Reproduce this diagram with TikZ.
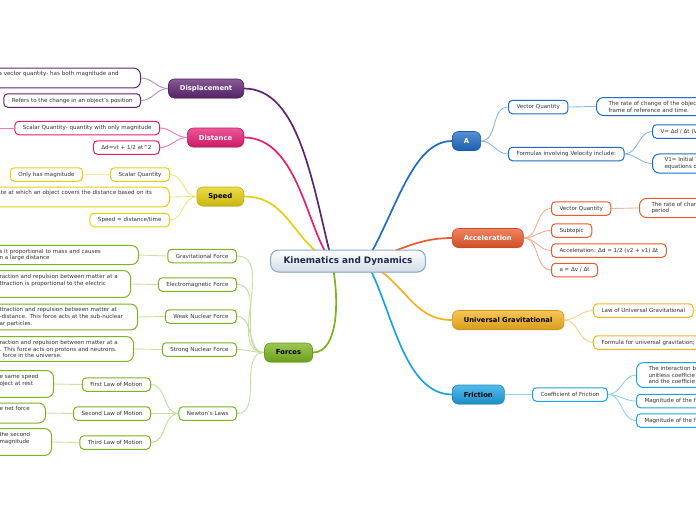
\documentclass[tikz,border=0pt]{standalone}
\usepackage{fontspec}
\setmainfont{DejaVu Sans}
\usetikzlibrary{shadows,backgrounds}

\definecolor{inkc}{HTML}{333333}
\definecolor{hubc}{HTML}{D2DCE7}
\definecolor{hubline}{HTML}{86A9CC}
\definecolor{hubtext}{HTML}{1C2B4A}
\definecolor{dispc}{HTML}{5E2472}
\definecolor{distc}{HTML}{E61E74}
\definecolor{speedc}{HTML}{E6CF10}
\definecolor{forcec}{HTML}{7AB51D}
\definecolor{velc}{HTML}{1F6BC6}
\definecolor{accc}{HTML}{EB5A2C}
\definecolor{gravc}{HTML}{F6B21E}
\definecolor{fricc}{HTML}{1DA2E2}

\tikzset{
  hub/.style={rounded corners=8pt, top color=white, bottom color=hubc, draw=hubline,
    line width=1pt, minimum height=22pt, inner xsep=13pt, text=hubtext,
    font=\bfseries\fontsize{8.9}{10}\selectfont,
    drop shadow={opacity=0.2,shadow xshift=0.6pt,shadow yshift=-0.8pt}},
  topic/.style={rounded corners=6pt, top color=#1!75!white, bottom color=#1!88!black,
    draw=#1!85!black, line width=0.6pt, minimum height=19pt, inner xsep=11.5pt,
    font=\bfseries\fontsize{6.8}{8}\selectfont,
    drop shadow={opacity=0.25,shadow xshift=0.6pt,shadow yshift=-0.8pt}},
  leaf/.style={draw=#1, fill=white, rounded corners=4pt, line width=1pt,
    inner xsep=8pt, inner ysep=1pt, minimum height=13.5pt, text=inkc,
    font=\fontsize{5.55}{6.9}\selectfont},
  note/.style={leaf=#1, rounded corners=7pt, inner xsep=12pt, inner ysep=3.4pt, align=left},
  limb/.style={line width=1.7pt},
  twig/.style={line width=0.9pt},
}

\begin{document}
\begin{tikzpicture}[x=1pt,y=-1pt]
\useasboundingbox (0,0) rectangle (696,520);
\clip (0,0) rectangle (696,520);

% centre
\node[hub] (hub) at (348,261) {Kinematics and Dynamics};
\coordinate (hubW) at (332,262);
\coordinate (hubE) at (366,262);

% main topics
\node[topic=dispc, text=white, anchor=east] (disp) at (244,88.5) {Displacement};
\node[topic=distc, text=white, anchor=east] (dist) at (244,137.5) {Distance};
\node[topic=speedc, text=black, anchor=east] (speed) at (244,196.5) {Speed};
\node[topic=forcec, text=black] (forces) at (288.5,352.5) {Forces};
\node[topic=velc, text=white, anchor=west] (velo) at (452,141) {A};
\node[topic=accc, text=white, anchor=west] (accel) at (452,238) {Acceleration};
\node[topic=gravc, text=black, anchor=west] (grav) at (452,320) {Universal Gravitational};
\node[topic=fricc, text=black, anchor=west] (fric) at (452,394.5) {Friction};

% displacement
\node[note=dispc, anchor=east, text width=130pt] (dispA) at (141,78) {a vector quantity- has both magnitude and\\\strut};
\node[leaf=dispc, anchor=east] (dispB) at (141,100.5) {Refers to the change in an object's position};

% distance
\node[leaf=distc, anchor=east] (distA) at (160,128) {Scalar Quantity- quantity with only magnitude};
\node[leaf=distc, anchor=east] (distB) at (160,147.5) {Δd=vt + 1/2 at\textasciicircum 2};
\coordinate (distAx) at (-20,128);

% speed
\node[leaf=speedc, anchor=east] (spA) at (170,174.5) {Scalar Quantity};
\node[leaf=speedc, anchor=east] (spAa) at (83,174.5) {Only has magnitude};
\node[note=speedc, anchor=east, text width=160pt] (spB) at (170,197) {ate at which an object covers the distance based on its\\\strut};
\node[leaf=speedc, anchor=east] (spC) at (170,220) {Speed = distance/time};

% forces
\node[leaf=forcec, anchor=east] (fGrav) at (237,256) {Gravitational Force};
\node[note=forcec, anchor=east, text width=127pt] (fGravA) at (139,255) {s it proportional to mass and causes\\n a large distance};
\node[leaf=forcec, anchor=east] (fEm) at (237,284.5) {Electromagnetic Force};
\node[note=forcec, anchor=east, text width=119pt] (fEmA) at (131,284) {raction and repulsion between matter at a\\ttraction is proportional to the electric\\\strut};
\node[leaf=forcec, anchor=east] (fWeak) at (237,316.5) {Weak Nuclear Force};
\node[note=forcec, anchor=east, text width=126pt] (fWeakA) at (138,317) {ttraction and repulsion between matter at\\-distance. This force acts at the sub-nuclear\\ar particles.};
\node[leaf=forcec, anchor=east] (fStrong) at (237,349.5) {Strong Nuclear Force};
\node[note=forcec, anchor=east, text width=122pt] (fStrongA) at (134,349) {raction and repulsion between matter at a\\. This force acts on protons and neutrons.\\\hspace*{3pt}force in the universe.};
\node[leaf=forcec, anchor=east] (fNewton) at (237,413.5) {Newton's Laws};
\node[leaf=forcec, anchor=east] (nFirst) at (151,384.5) {First Law of Motion};
\node[note=forcec, anchor=east, text width=42pt] (nFirstA) at (54,384) {e same speed\\oject at rest\\\strut};
\node[leaf=forcec, anchor=east] (nSecond) at (151,413.5) {Second Law of Motion};
\node[note=forcec, anchor=east, text width=34pt] (nSecondA) at (46,413) {e net force\\\strut};
\node[leaf=forcec, anchor=east] (nThird) at (151,442.5) {Third Law of Motion};
\node[note=forcec, anchor=east, text width=40pt] (nThirdA) at (52,442) {the second\\magnitude\\\strut};

% velocity
\node[leaf=velc, anchor=west] (vVec) at (508,107) {Vector Quantity};
\node[note=velc, anchor=west, text width=110pt] (vVecA) at (596,106.5) {The rate of change of the objec\\frame of reference and time.};
\node[leaf=velc, anchor=west] (vForm) at (508,154) {Formulas involving Velocity include:};
\node[leaf=velc, anchor=west, text width=60pt] (vFormA) at (652,131.5) {V= Δd / Δt (V};
\node[note=velc, anchor=west, text width=60pt] (vFormB) at (652,163.5) {V1= Initial V\\equations o};

% acceleration
\node[leaf=accc, anchor=west] (aVec) at (551,208.5) {Vector Quantity};
\node[note=accc, anchor=west, text width=60pt] (aVecA) at (639,208) {The rate of chan\\period};
\node[leaf=accc, anchor=west] (aSub) at (551,230.5) {Subtopic};
\node[leaf=accc, anchor=west] (aForm) at (551,250.5) {Acceleration: Δd = 1/2 (v2 + v1) Δt};
\node[leaf=accc, anchor=west] (aDef) at (551,270) {a = Δv / Δt};

% universal gravitation
\node[leaf=gravc, anchor=west] (gLaw) at (593,310.5) {Law of Universal Gravitational};
\node[leaf=gravc, anchor=west, text width=110pt] (gForm) at (593,342.5) {Formula for universal gravitation;};
\coordinate (gLawx) at (720,310.5);

% friction
\node[leaf=fricc, anchor=west] (fCoef) at (532,394.5) {Coefficient of Friction};
\node[note=fricc, anchor=west, text width=60pt] (fCoefA) at (636,375) {The interaction b\\unitless coefficie\\and the coefficie};
\node[leaf=fricc, anchor=west, text width=60pt] (fCoefB) at (636,401) {Magnitude of the f};
\node[leaf=fricc, anchor=west, text width=60pt] (fCoefC) at (636,420.5) {Magnitude of the f};

\begin{scope}[on background layer]
% limbs from the centre
\draw[limb, dispc] (disp.east) .. controls +(55,0) and +(-20,-80) .. (hubW);
\draw[limb, distc] (dist.east) .. controls +(55,0) and +(-25,-30) .. (hubW);
\draw[limb, speedc] (speed.east) .. controls +(45,0) and +(-40,-20) .. (hubW);
\draw[limb, forcec] (forces.east) .. controls +(25,0) and +(8,40) .. (hubW);
\draw[limb, velc] (velo.west) .. controls +(-40,0) and +(30,-50) .. (hubE);
\draw[limb, accc] (accel.west) .. controls +(-30,0) and +(40,-15) .. (hubE);
\draw[limb, gravc] (grav.west) .. controls +(-40,0) and +(40,20) .. (hubE);
\draw[limb, fricc] (fric.west) .. controls +(-50,0) and +(25,40) .. (hubE);

% twigs
\draw[twig, dispc!50] (disp.west) to[out=180,in=0] (dispA.east);
\draw[twig, dispc!50] (disp.west) to[out=180,in=0] (dispB.east);
\draw[twig, distc!60] (dist.west) to[out=180,in=0] (distA.east);
\draw[twig, distc!60] (dist.west) to[out=180,in=0] (distB.east);
\draw[twig, distc!60] (distA.west) -- (distAx);
\draw[twig, speedc!55] (speed.west) to[out=180,in=0] (spA.east);
\draw[twig, speedc!55] (speed.west) to[out=180,in=0] (spB.east);
\draw[twig, speedc!55] (speed.west) to[out=180,in=0] (spC.east);
\draw[twig, speedc!40] (spA.west) -- (spAa.east);
\foreach \f in {fGrav,fEm,fWeak,fStrong,fNewton}
  \draw[twig, forcec!45] (forces.west) to[out=180,in=0] (\f.east);
\draw[twig, forcec!40] (fGrav.west) -- (fGravA.east);
\draw[twig, forcec!40] (fEm.west) -- (fEmA.east);
\draw[twig, forcec!40] (fWeak.west) -- (fWeakA.east);
\draw[twig, forcec!40] (fStrong.west) -- (fStrongA.east);
\foreach \f in {nFirst,nSecond,nThird}
  \draw[twig, forcec!45] (fNewton.west) to[out=180,in=0] (\f.east);
\draw[twig, forcec!40] (nFirst.west) -- (nFirstA.east);
\draw[twig, forcec!40] (nSecond.west) -- (nSecondA.east);
\draw[twig, forcec!40] (nThird.west) -- (nThirdA.east);
\draw[twig, velc!50] (velo.east) to[out=0,in=180] (vVec.west);
\draw[twig, velc!50] (velo.east) to[out=0,in=180] (vForm.west);
\draw[twig, velc!50] (vVec.east) to[out=0,in=180] (vVecA.west);
\draw[twig, velc!50] (vForm.east) to[out=0,in=180] (vFormA.west);
\draw[twig, velc!50] (vForm.east) to[out=0,in=180] (vFormB.west);
\foreach \a in {aVec,aSub,aForm,aDef}
  \draw[twig, accc!50] (accel.east) to[out=0,in=180] (\a.west);
\draw[twig, accc!45] (aVec.east) to[out=0,in=180] (aVecA.west);
\draw[twig, gravc!60] (grav.east) to[out=0,in=180] (gLaw.west);
\draw[twig, gravc!60] (grav.east) to[out=0,in=180] (gForm.west);
\draw[twig, gravc!60] (gLaw.east) -- (gLawx);
\draw[twig, fricc!50] (fric.east) to[out=0,in=180] (fCoef.west);
\foreach \c in {fCoefA,fCoefB,fCoefC}
  \draw[twig, fricc!50] (fCoef.east) to[out=0,in=180] (\c.west);
\end{scope}
\end{tikzpicture}
\end{document}
